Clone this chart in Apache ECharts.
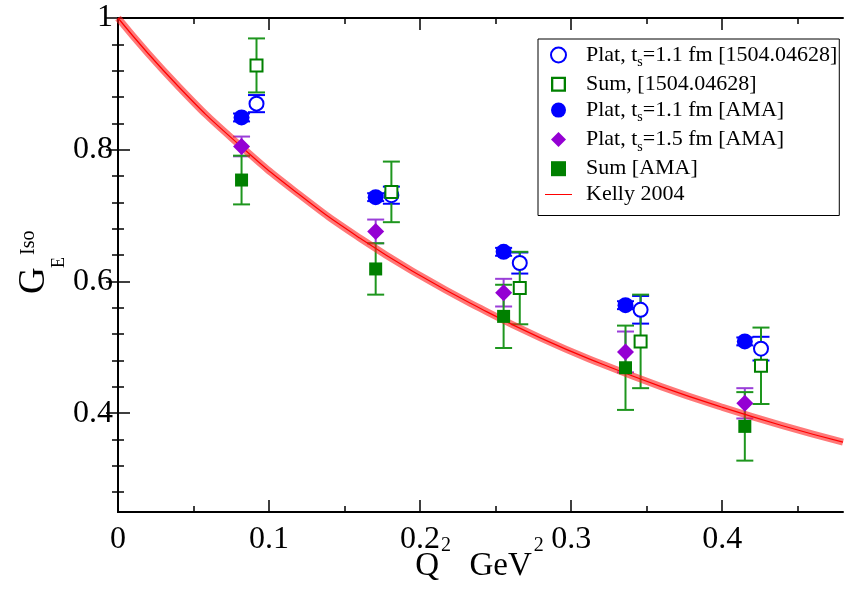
<!DOCTYPE html>
<html>
<head>
<meta charset="utf-8">
<script src="https://cdn.jsdelivr.net/npm/echarts@6/dist/echarts.min.js"></script>
<style>
  html, body { margin: 0; padding: 0; background: #fff; }
  #chart { width: 852px; height: 593px; }
</style>
</head>
<body>
<div id="chart"></div>
<script>
// Q^2 positions (GeV^2)
var xAMA = [0.0818, 0.1706, 0.2553, 0.336, 0.415];
var x1504 = [0.0917, 0.181, 0.266, 0.346, 0.4257];

// Plat, ts=1.1 fm [1504.04628]
var plat1504Y = [0.870, 0.731, 0.628, 0.557, 0.498];
var plat1504Err = [0.013, 0.013, 0.016, 0.021, 0.018];
// Sum, [1504.04628]
var sum1504Y = [0.928, 0.736, 0.590, 0.509, 0.472];
var sum1504Err = [0.041, 0.046, 0.055, 0.071, 0.058];
// Plat, ts=1.1 fm [AMA]
var plat11Y = [0.849, 0.728, 0.645, 0.564, 0.509];
var plat11Err = [0.006, 0.006, 0.006, 0.006, 0.006];
// Plat, ts=1.5 fm [AMA]
var plat15Y = [0.805, 0.676, 0.583, 0.493, 0.415];
var plat15Err = [0.015, 0.018, 0.021, 0.031, 0.023];
// Sum [AMA]
var sumAMAY = [0.754, 0.619, 0.547, 0.469, 0.380];
var sumAMAErr = [0.037, 0.039, 0.048, 0.064, 0.052];

// Kelly 2004 curve
var kellyX = [0, 0.04, 0.08, 0.12, 0.16, 0.20, 0.24, 0.28, 0.32, 0.36, 0.40, 0.44, 0.48];
var kellyY = [1.000, 0.896, 0.808, 0.732, 0.666, 0.609, 0.559, 0.514, 0.475, 0.440, 0.409, 0.381, 0.356];

// ticks
var xMajor = [0, 0.1, 0.2, 0.3, 0.4];
var xMinor = [0.05, 0.15, 0.25, 0.35, 0.45];
var yMajor = [0.4, 0.6, 0.8, 1];
var yMinor = [0.28, 0.32, 0.36, 0.44, 0.48, 0.52, 0.56, 0.64, 0.68, 0.72, 0.76, 0.84, 0.88, 0.92, 0.96];

var FONT = 'Liberation Serif';
var BLUE = '#0000ff', GREEN = '#008000', GREEN_BAR = '#1e961e', PURPLE = '#9400d3', PURPLE_BAR = '#9a3fd8', RED = '#ff0000';

function pairs(xs, ys) {
  return xs.map(function (x, i) { return [x, ys[i]]; });
}
function bars(xs, ys, es) {
  return xs.map(function (x, i) { return [x, ys[i] - es[i], ys[i] + es[i]]; });
}

function errorBar(params, api) {
  var x = api.value(0);
  var top = api.coord([x, api.value(2)]);
  var bot = api.coord([x, api.value(1)]);
  var hw = 8.5;
  var style = { stroke: api.visual('color'), lineWidth: 2 };
  return {
    type: 'group',
    children: [
      { type: 'line', shape: { x1: top[0], y1: top[1], x2: bot[0], y2: bot[1] }, style: style },
      { type: 'line', shape: { x1: top[0] - hw, y1: top[1], x2: top[0] + hw, y2: top[1] }, style: style },
      { type: 'line', shape: { x1: bot[0] - hw, y1: bot[1], x2: bot[0] + hw, y2: bot[1] }, style: style }
    ]
  };
}

function barSeries(name, data, color) {
  return {
    name: name,
    type: 'custom',
    renderItem: errorBar,
    data: data,
    encode: { x: 0, y: [1, 2] },
    itemStyle: { color: color },
    z: 2,
    silent: true
  };
}

function xAxis(pos, ticks, len, showLine, showLabel) {
  return {
    type: 'value', position: pos, min: 0, max: 0.48,
    axisLine: { show: showLine, lineStyle: { color: '#000', width: 2 } },
    axisTick: { show: true, inside: true, length: len, customValues: ticks, lineStyle: { color: '#000', width: 1.5 } },
    axisLabel: showLabel
      ? { show: true, customValues: ticks, margin: 12, color: '#000', fontFamily: FONT, fontSize: 32 }
      : { show: false },
    splitLine: { show: false }
  };
}
function yAxis(pos, ticks, len, showLine, showLabel) {
  return {
    type: 'value', position: pos, min: 0.25, max: 1,
    axisLine: { show: showLine, lineStyle: { color: '#000', width: 2 } },
    axisTick: { show: true, inside: true, length: len, customValues: ticks, lineStyle: { color: '#000', width: 1.5 } },
    axisLabel: showLabel
      ? { show: true, customValues: ticks, margin: 5, color: '#000', fontFamily: FONT, fontSize: 32 }
      : { show: false },
    splitLine: { show: false }
  };
}

var legendText = {
  'Plat, ts=1.1 fm [1504.04628]': '{g|}{a|Plat, t}{s|s}{a|=1.1 fm [1504.04628]}',
  'Sum, [1504.04628]': '{g|}{a|Sum, [1504.04628]}',
  'Plat, ts=1.1 fm [AMA]': '{g|}{a|Plat, t}{s|s}{a|=1.1 fm [AMA]}',
  'Plat, ts=1.5 fm [AMA]': '{g|}{a|Plat, t}{s|s}{a|=1.5 fm [AMA]}',
  'Sum [AMA]': '{g|}{a|Sum [AMA]}',
  'Kelly 2004': '{g|}{a|Kelly 2004}'
};

var xAxes = [
  xAxis('bottom', xMajor, 12, true, true),
  xAxis('bottom', xMinor, 6, false, false),
  xAxis('top', xMajor, 12, true, false),
  xAxis('top', xMinor, 6, false, false)
];
xAxes[0].name = '{a|Q}{s|2}{a|  GeV}{s|2}';
xAxes[0].nameLocation = 'middle';
xAxes[0].nameGap = 24;
xAxes[0].nameMoveOverlap = false;
xAxes[0].nameTextStyle = {
  color: '#000',
  rich: {
    a: { fontFamily: FONT, fontSize: 33, color: '#000' },
    s: { fontFamily: FONT, fontSize: 20, color: '#000', padding: [0, 2, 40, 2] }
  }
};

var chart = echarts.init(document.getElementById('chart'));
chart.setOption({
  backgroundColor: '#fff',
  animation: false,
  grid: { left: 118, right: 9, top: 18, bottom: 81, outerBoundsMode: 'none' },
  xAxis: xAxes,
  yAxis: [
    yAxis('left', yMajor, 12, true, true),
    yAxis('left', yMinor, 6, false, false),
    yAxis('right', yMajor, 12, true, false),
    yAxis('right', yMinor, 6, false, false)
  ],
  legend: {
    orient: 'vertical',
    left: 538,
    top: 39,
    padding: [5, 2, 10, 7],
    itemGap: 3.8,
    itemWidth: 27,
    itemHeight: 15,
    borderColor: '#000',
    borderWidth: 1,
    backgroundColor: '#fff',
    selectedMode: false,
    data: [
      { name: 'Plat, ts=1.1 fm [1504.04628]' },
      { name: 'Sum, [1504.04628]', icon: 'path://M0,0H13V13H0Z M2,2V11H11V2Z' },
      { name: 'Plat, ts=1.1 fm [AMA]' },
      { name: 'Plat, ts=1.5 fm [AMA]', icon: 'path://M7,0L14,7L7,14L0,7Z' },
      { name: 'Sum [AMA]', icon: 'path://M0,0H13V13H0Z' },
      { name: 'Kelly 2004', icon: 'path://M0,0H27V1H0Z' }
    ],
    formatter: function (name) { return legendText[name]; },
    textStyle: {
      color: '#000',
      rich: {
        g: { width: 9 },
        a: { fontFamily: FONT, fontSize: 22, lineHeight: 28, color: '#000' },
        s: { fontFamily: FONT, fontSize: 14, color: '#000', padding: [15, 0, 0, 0] }
      }
    }
  },
  graphic: [{
    type: 'group',
    x: 34.5,
    y: 294,
    rotation: Math.PI / 2,
    children: [
      { type: 'text', x: 0, y: 0, style: { text: 'G', font: '37px "Liberation Serif"', fill: '#000', verticalAlign: 'middle', align: 'left' } },
      { type: 'text', x: 26, y: 24.5, style: { text: 'E', font: '18px "Liberation Serif"', fill: '#000', verticalAlign: 'middle', align: 'left' } },
      { type: 'text', x: 39, y: -6, style: { text: 'Iso', font: '20px "Liberation Serif"', fill: '#000', verticalAlign: 'middle', align: 'left' } }
    ]
  }],
  series: [
    barSeries('err plat1504', bars(x1504, plat1504Y, plat1504Err), BLUE),
    barSeries('err sum1504', bars(x1504, sum1504Y, sum1504Err), GREEN_BAR),
    barSeries('err plat11', bars(xAMA, plat11Y, plat11Err), BLUE),
    barSeries('err plat15', bars(xAMA, plat15Y, plat15Err), PURPLE_BAR),
    barSeries('err sumAMA', bars(xAMA, sumAMAY, sumAMAErr), GREEN_BAR),
    {
      name: 'Kelly band',
      type: 'line',
      data: pairs(kellyX, kellyY),
      smooth: true,
      symbol: 'none',
      lineStyle: { color: 'rgba(255,30,30,0.6)', width: 7 },
      z: 3,
      silent: true
    },
    {
      name: 'Kelly 2004',
      type: 'line',
      data: pairs(kellyX, kellyY),
      smooth: true,
      symbol: 'none',
      itemStyle: { color: RED },
      lineStyle: { color: RED, width: 1.2 },
      z: 3
    },
    {
      name: 'Plat, ts=1.1 fm [1504.04628]',
      type: 'scatter',
      data: pairs(x1504, plat1504Y),
      symbol: 'emptyCircle',
      symbolSize: 14,
      itemStyle: { color: BLUE, borderWidth: 2, opacity: 1 },
      z: 4
    },
    {
      name: 'Sum, [1504.04628]',
      type: 'scatter',
      data: pairs(x1504, sum1504Y),
      symbol: 'emptyRect',
      symbolSize: 12,
      itemStyle: { color: GREEN, borderWidth: 2, opacity: 1 },
      z: 4
    },
    {
      name: 'Plat, ts=1.1 fm [AMA]',
      type: 'scatter',
      data: pairs(xAMA, plat11Y),
      symbol: 'circle',
      symbolSize: 16,
      itemStyle: { color: BLUE, opacity: 1 },
      z: 4
    },
    {
      name: 'Plat, ts=1.5 fm [AMA]',
      type: 'scatter',
      data: pairs(xAMA, plat15Y),
      symbol: 'diamond',
      symbolSize: 17,
      itemStyle: { color: PURPLE, opacity: 1 },
      z: 4
    },
    {
      name: 'Sum [AMA]',
      type: 'scatter',
      data: pairs(xAMA, sumAMAY),
      symbol: 'rect',
      symbolSize: 13,
      itemStyle: { color: GREEN, opacity: 1 },
      z: 4
    }
  ]
});
</script>
</body>
</html>
